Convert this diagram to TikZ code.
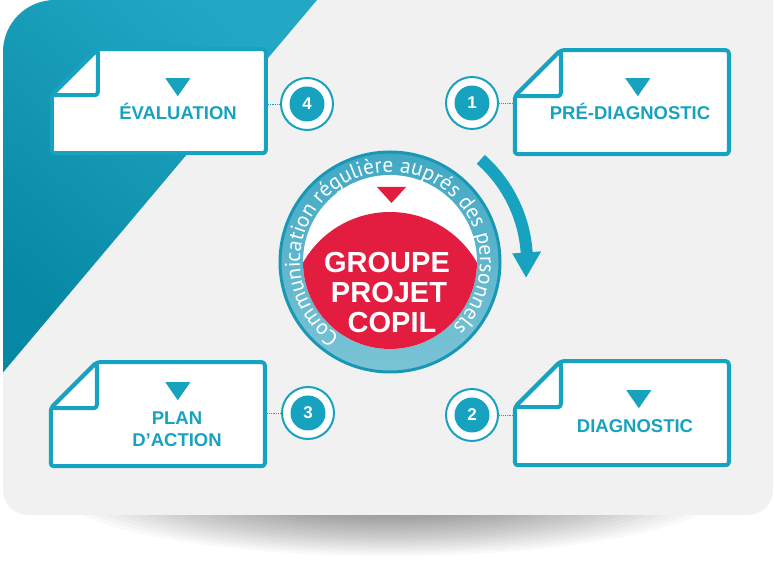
\documentclass[tikz,border=0pt]{standalone}
\usepackage{fontspec}
\setmainfont{Liberation Sans}
\newfontfamily\ringfamily{PT Sans}
\usetikzlibrary{calc,decorations.text}
\definecolor{teal1}{HTML}{17A2BF}
\definecolor{tealdark}{HTML}{0688A4}
\definecolor{teallight}{HTML}{22A8C5}
\definecolor{bggray}{HTML}{F1F1F1}
\definecolor{redc}{HTML}{E31D40}
\definecolor{ringtop}{HTML}{40A8C4}
\definecolor{ringbot}{HTML}{7CC4D6}
\definecolor{ringedge}{HTML}{1898B5}
\newcommand\ringfont{\ringfamily\fontsize{21.5}{21.5}\selectfont}
\newcommand\bgshape{(53,561) -- (773,561) -- (773,71) arc[start angle=0,end angle=-90,radius=25] -- (28,46) arc[start angle=270,end angle=180,radius=25] -- (3,509) arc[start angle=180,end angle=90,radius=52] -- cycle}
\newcommand\drawcard[3]{%
  \begin{scope}[shift={(#1.south west)}]
    \path[cardline] (2,2) -- (216,2) -- (216,106) -- (48,106) -- (2,60) -- cycle;
    \path[cardline] (2,60) -- (48,106) -- (48,60) -- cycle;
    \fill[teal1] (#2-12.5,#3) -- (#2+12.5,#3) -- (#2,#3-18) -- cycle;
  \end{scope}}
\begin{document}
\begin{tikzpicture}[x=1pt,y=1pt,
  cardbox/.style={minimum width=218pt, minimum height=108pt, inner sep=0pt, draw=none},
  cardline/.style={draw=teal1, line width=4pt, fill=white, rounded corners=3pt, line join=round},
  lbl/.style={font=\fontsize{18.5}{20}\selectfont\bfseries, text=teal1, inner sep=0pt, anchor=base},
  bigtxt/.style={font=\fontsize{29}{29}\selectfont\bfseries, text=white, inner sep=0pt, anchor=base},
  numring/.style={circle, draw=teal1, line width=2pt, fill=white, minimum size=52pt, inner sep=0pt},
  numdisc/.style={circle, fill=teal1, minimum size=35pt, inner sep=0pt, text=white, font=\fontsize{17}{17}\selectfont\bfseries},
  dots/.style={draw=teal1, line width=0.9pt, densely dotted},
  shadowlayer/.style={fill=black, opacity=0.025},
]
% canvas
\path[fill=white] (0,0) rectangle (775,561);
\useasboundingbox (0,0) rectangle (775,561);
% floor shadow
\foreach \k in {0,...,29} {
  \path[shadowlayer] (390,75) ellipse [x radius={340*(1-\k/30)}, y radius={70*(1-\k/30)}];
}
% background card
\fill[bggray] \bgshape;
% teal corner
\begin{scope}
  \clip \bgshape;
  \shade[left color=teallight, right color=tealdark, shading angle=-40] (0,561) -- (317,561) -- (0,185) -- cycle;
\end{scope}
% centre
\coordinate (cc) at (390,299);
% arrow
\begin{scope}[shift={(cc)}]
  \draw[teal1, line width=12pt] (48.5:137) arc[start angle=48.5, end angle=3.5, radius=137];
  \fill[teal1] (4:122.5) -- (4:151.5) -- (-6.5:137) -- cycle;
\end{scope}
% centre disc
\shade[top color=ringtop, bottom color=ringbot] (cc) circle (110);
\draw[ringedge, line width=3pt] (cc) circle (110);
\fill[white] (cc) circle (87);
\begin{scope}
  \clip (cc) circle (87);
  \fill[redc] (390,249) circle (100);
\end{scope}
\fill[redc] (377,374) -- (406,374) -- (391.5,358) -- cycle;
\path[decorate, decoration={text along path, text={|\ringfont|Communication régulière auprés des personnels}, text align=center, text color=white}] ($(cc)+(238:90)$) arc[start angle=238, end angle=-48, radius=90];
\node[bigtxt] (g1) at (387,288) {GROUPE};
\node[bigtxt] (g2) at (389,258.5) {PROJET};
\node[bigtxt] (g3) at (392,228.5) {COPIL};
% cards
\node[cardbox] (cE) at (159,460) {};
\node[cardbox] (cP) at (622,459) {};
\node[cardbox] (cA) at (158,147) {};
\node[cardbox] (cD) at (622,148) {};
\drawcard{cE}{128}{77}
\drawcard{cP}{125}{78}
\drawcard{cA}{129}{86}
\drawcard{cD}{126}{77}
\node[lbl] (tE) at (178,441.5) {ÉVALUATION};
\node[lbl] (tP) at (630,441.5) {PRÉ-DIAGNOSTIC};
\node[lbl] (tA1) at (177,136.5) {PLAN};
\node[lbl] (tA2) at (177,114.5) {D’ACTION};
\node[lbl] (tD) at (635,128.5) {DIAGNOSTIC};
% number badges
\node[numring] (r4) at (307,457) {};
\node[numring] (r1) at (472,458) {};
\node[numring] (r3) at (308,148) {};
\node[numring] (r2) at (472,146) {};
\node[numdisc] (n4) at (r4) {4};
\node[numdisc] (n1) at (r1) {1};
\node[numdisc] (n3) at (r3) {3};
\node[numdisc] (n2) at (r2) {2};
% dotted connectors
\draw[dots] (r4.west) -- (r4.west -| cE.east);
\draw[dots] (r1.east) -- (r1.east -| cP.west);
\draw[dots] (r3.west) -- (r3.west -| cA.east);
\draw[dots] (r2.east) -- (r2.east -| cD.west);
\end{tikzpicture}
\end{document}
